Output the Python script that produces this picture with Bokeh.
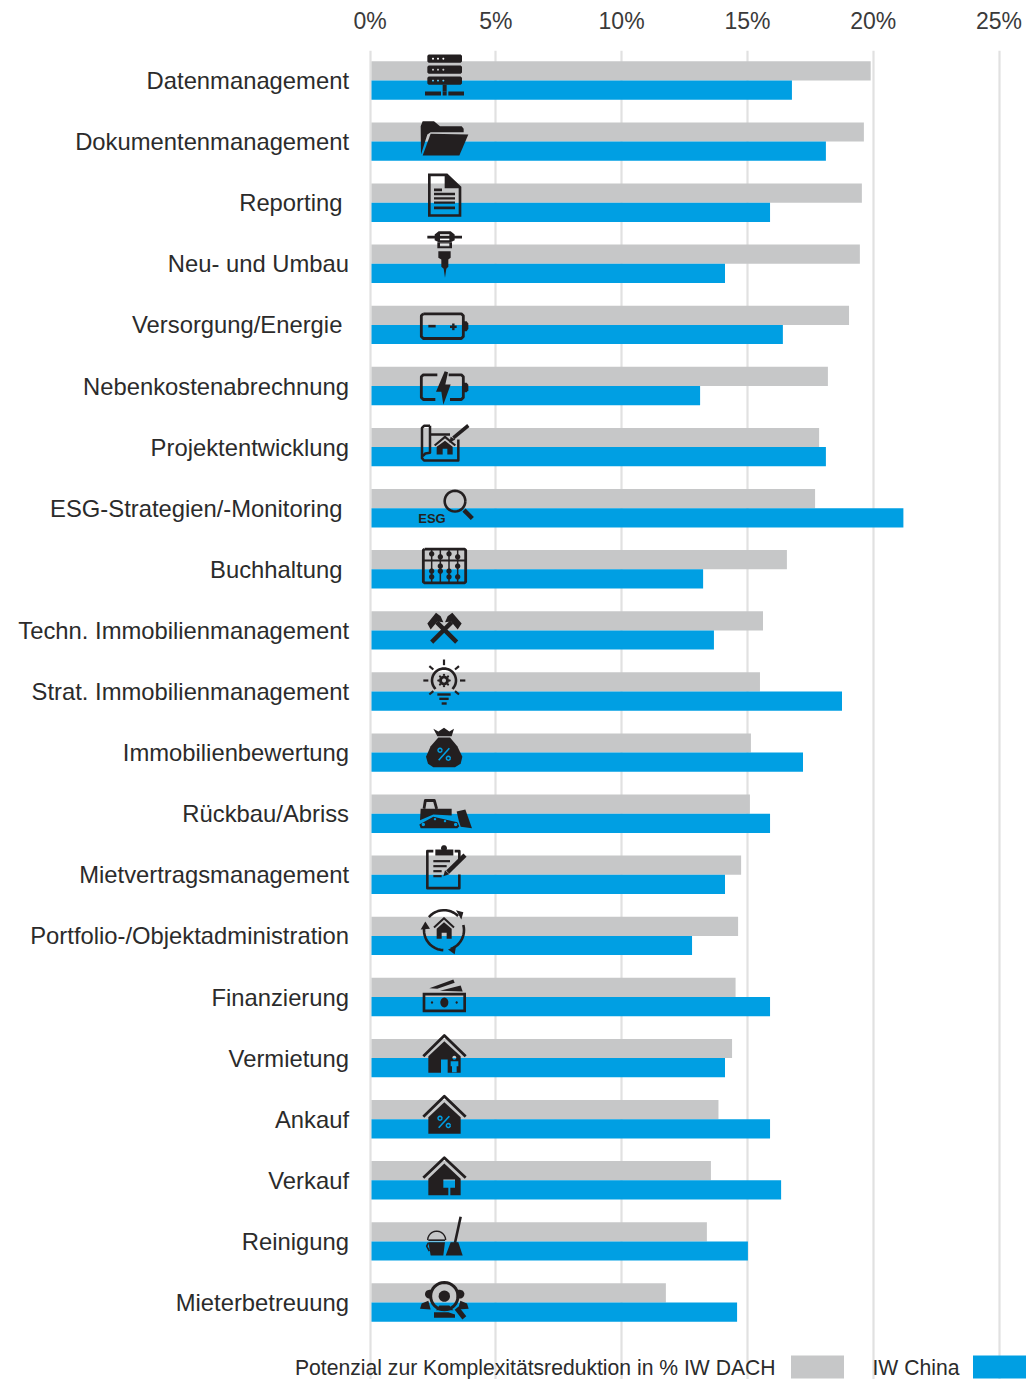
from math import cos, sin, pi
from bokeh.plotting import figure
from bokeh.models import Range1d, LinearAxis, FixedTicker, ColumnDataSource
from bokeh.core.properties import value
from bokeh.embed import file_html
from bokeh.resources import INLINE

NB = "\u00a0"
categories = ["Datenmanagement", "Dokumentenmanagement", "Reporting" + NB, "Neu- und Umbau",
              "Versorgung/Energie" + NB, "Nebenkostenabrechnung", "Projektentwicklung",
              "ESG-Strategien/-Monitoring" + NB, "Buchhaltung" + NB, "Techn. Immobilienmanagement",
              "Strat. Immobilienmanagement", "Immobilienbewertung", "Rückbau/Abriss",
              "Mietvertragsmanagement", "Portfolio-/Objektadministration", "Finanzierung",
              "Vermietung", "Ankauf", "Verkauf", "Reinigung", "Mieterbetreuung"]
iw_dach = [19.9, 19.63, 19.55, 19.47, 19.04, 18.2, 17.85, 17.69, 16.57, 15.62, 15.5,
           15.14, 15.1, 14.75, 14.63, 14.53, 14.39, 13.85, 13.55, 13.39, 11.76]
iw_china = [16.77, 18.12, 15.9, 14.11, 16.41, 13.12, 18.12, 21.2, 13.24, 13.67, 18.76,
            17.21, 15.9, 14.11, 12.8, 15.9, 14.11, 15.9, 16.34, 15.02, 14.59]
x_ticks = [0, 5, 10, 15, 20, 25]
x_labels = ["0%", "5%", "10%", "15%", "20%", "25%"]

GRAY = "#C6C7C8"
BLUE = "#009FE3"
GRID = "#E1E1E1"
INK = "#231F20"
TXT = "#2B2B2B"
FONT = "Liberation Sans"


def PX(x):
    return (x - 370) * 25 / 629


ROW = 61.1


def PY(y):
    return 20.5 - (y - 81) / ROW


rows = [20.5 - i for i in range(len(categories))]
p = figure(width=1032, height=1379, output_backend="svg", toolbar_location=None,
           x_range=Range1d(PX(0.5), PX(1032.5)), y_range=Range1d(PY(1380), PY(51)),
           x_axis_location=None, min_border_left=0, min_border_right=0,
           min_border_top=50, min_border_bottom=0, outline_line_color=None)

top = LinearAxis(ticker=FixedTicker(ticks=x_ticks),
                 major_label_overrides={t: l for t, l in zip(x_ticks, x_labels)})
top.axis_line_color = None
top.major_tick_line_color = None
top.minor_tick_line_color = None
top.major_tick_out = 0
top.major_label_text_font = FONT
top.major_label_text_font_size = "23px"
top.major_label_text_color = "#3A3A3A"
top.major_label_standoff = 17
p.add_layout(top, "above")

ax = p.yaxis[0]
ax.fixed_location = 0
ax.ticker = FixedTicker(ticks=rows)
ax.major_label_overrides = {r: c for r, c in zip(rows, categories)}
ax.axis_line_color = None
ax.major_tick_line_color = None
ax.minor_tick_line_color = None
ax.major_tick_out = 0
ax.major_label_text_font = FONT
ax.major_label_text_font_size = "23.8px"
ax.major_label_text_color = TXT
ax.major_label_standoff = 21

p.ygrid.visible = False
p.xgrid.ticker = FixedTicker(ticks=x_ticks)
p.xgrid.grid_line_color = GRID
p.xgrid.grid_line_width = 2.2
p.xgrid.bounds = (PY(1334), PY(51))

H = 19.2 / ROW
src = ColumnDataSource(dict(top_row=[r + H / 2 for r in rows], low_row=[r - H / 2 for r in rows],
                            dach=iw_dach, china=iw_china))
start = PX(371.5)
p.hbar(y="top_row", right="dach", left=start, height=H, source=src, color=GRAY, line_width=0)
p.hbar(y="low_row", right="china", left=start, height=H, source=src, color=BLUE, line_width=0)

# ---------- pictograms, written in page pixels ----------
polys, lines = [], []


def Z(o, pts):
    return [(PX(o[0] + x / 3), PY(o[1] + y / 3)) for x, y in pts]


def R(x0, y0, x1, y1):
    return [(x0, y0), (x1, y0), (x1, y1), (x0, y1)]


def C(cx, cy, r, ry=None, n=24):
    ry = r if ry is None else ry
    return [(cx + r * cos(2 * pi * i / n), cy + ry * sin(2 * pi * i / n)) for i in range(n)]


def A(cx, cy, r, a0, a1, n=16):
    return [(cx + r * cos(pi * (a0 + (a1 - a0) * i / n) / 180), cy + r * sin(pi * (a0 + (a1 - a0) * i / n) / 180))
            for i in range(n + 1)]


def fill(o, pts, holes=(), color=INK):
    polys.append((Z(o, pts), [Z(o, h) for h in holes], color))


def stroke(o, pts, w=2.0, color=INK):
    lines.append((Z(o, pts), w, color))


# row 1-4
o = (340, 0)
for y0, y1 in [(165, 190), (198, 223), (231, 256)]:
    ym = (y0 + y1) / 2
    fill(o, [(266, y0), (362, y0), (366, y0 + 4), (366, y1 - 4), (362, y1), (266, y1), (262, y1 - 4), (262, y0 + 4)],
         [C(279, ym, 3), C(294, ym, 3), C(310, ym, 3)])
fill(o, R(308, 256, 320, 276))
fill(o, R(255, 276, 303, 288))
fill(o, R(308, 276, 320, 288))
fill(o, R(325, 276, 372, 288))
fill(o, [(242, 380), (248, 365), (282, 365), (300, 380), (365, 380), (371, 388), (371, 398), (272, 398), (262, 405), (243, 465)])
fill(o, [(272, 403), (385, 405), (358, 468), (248, 468)])
fill(o, [(264, 522), (322, 522), (364, 562), (364, 652), (264, 652)],
     [[(272, 530), (314, 530), (314, 566), (356, 566), (356, 644), (272, 644)]])
fill(o, [(324, 532), (352, 558), (324, 558)], [[(328, 540), (342, 554), (328, 554)]])
for r in [(282, 567, 306, 575), (282, 580, 345, 587), (282, 593, 345, 600), (282, 606, 345, 613), (282, 621, 345, 629)]:
    fill(o, R(*r))
stroke(o, [(262, 713), (366, 713)], 2.6)
fill(o, [(296, 695), (332, 695), (344, 705), (344, 722), (332, 728), (296, 728), (284, 722), (284, 705)],
     [R(300, 704, 328, 711), R(300, 716, 328, 722)])
fill(o, R(292, 728, 336, 746), [R(300, 732, 328, 740)])
fill(o, [(295, 755), (332, 755), (332, 775), (325, 780), (325, 802), (319, 808), (315, 835), (311, 808), (304, 802), (304, 780), (295, 775)])

# row 5-9
o = (400, 300)
stroke(o, [(70, 43), (184, 43), (190, 49), (190, 111), (184, 117), (70, 117), (64, 111), (64, 49), (70, 43)], 2.8)
fill(o, [(192, 65), (200, 65), (205, 72), (205, 88), (200, 95), (192, 95)])
stroke(o, [(85, 80), (107, 80)], 2.6)
stroke(o, [(150, 82), (170, 82)], 2.4)
stroke(o, [(160, 72), (160, 92)], 2.4)
stroke(o, [(112, 226), (70, 226), (64, 232), (64, 294), (70, 300), (106, 300)], 2.8)
stroke(o, [(146, 226), (184, 226), (190, 232), (190, 294), (184, 300), (150, 300)], 2.8)
fill(o, [(192, 250), (200, 250), (205, 256), (205, 272), (200, 278), (192, 278)])
fill(o, [(134, 215), (108, 277), (124, 277), (130, 316), (152, 255), (136, 255), (144, 218)])
stroke(o, [(90, 379), (72, 379), (66, 385), (66, 476), (72, 483), (175, 483), (175, 420)], 2.5)
stroke(o, [(90, 379), (90, 460), (76, 462), (68, 470)], 2.5)
stroke(o, [(90, 405), (150, 405)], 2.5)
stroke(o, [(160, 415), (205, 378)], 3.6)
fill(o, [(148, 430), (152, 412), (166, 420)])
stroke(o, [(104, 438), (135, 412), (166, 438)], 2.2)
fill(o, [(135, 424), (158, 442), (158, 465), (142, 465), (142, 448), (128, 448), (128, 465), (110, 465), (110, 442)])
stroke(o, list(A(165, 605, 31, 0, 360, 32)), 2.6)
stroke(o, [(192, 632), (217, 657)], 4.4)
stroke(o, [(74, 749), (194, 749), (197, 752), (197, 847), (194, 850), (74, 850), (70, 847), (70, 752), (74, 749)], 2.8)
stroke(o, [(70, 783), (197, 783)], 1.8)
for x in (95, 121, 147, 173):
    stroke(o, [(x, 749), (x, 850)], 1.5)
for cx, cy in [(95, 763), (121, 772), (147, 763), (173, 772), (121, 800), (173, 800), (95, 815), (121, 815),
               (147, 815), (95, 832), (147, 832), (173, 832)]:
    fill(o, C(cx, cy, 8))

# row 10-14
o = (400, 600)
stroke(o, [(95, 128), (155, 68)], 4.4)
stroke(o, [(170, 128), (110, 68)], 4.4)
fill(o, [(82, 72), (108, 40), (122, 50), (130, 68), (112, 66), (92, 90)])
fill(o, [(185, 72), (157, 40), (143, 50), (135, 68), (153, 66), (173, 90)])
stroke(o, A(132, 243, 36, 135, 405, 28), 2.6)
fill(o, C(132, 243, 15), [C(132, 243, 6)])
for a in range(0, 360, 45):
    x = 132 + 17 * cos(a * pi / 180)
    y = 243 + 17 * sin(a * pi / 180)
    fill(o, C(x, y, 3.5, n=8))
stroke(o, [(112, 285), (152, 285)], 2.4)
stroke(o, [(118, 298), (146, 298)], 2.4)
stroke(o, [(125, 312), (140, 312)], 2.4)
for s in [[(132, 180), (132, 197)], [(88, 200), (100, 210)], [(177, 200), (165, 210)], [(70, 243), (85, 243)],
          [(180, 243), (196, 243)], [(88, 285), (100, 275)], [(177, 285), (165, 275)]]:
    stroke(o, s, 2.2)
fill(o, [(100, 388), (115, 396), (132, 385), (148, 396), (162, 388), (155, 410), (112, 410)])
fill(o, [(115, 414), (150, 414), (172, 440), (187, 472), (182, 493), (165, 503), (100, 503), (84, 493), (78, 472), (92, 440)])
stroke(o, [(116, 482), (148, 446)], 1.6, BLUE)
stroke(o, A(120, 452, 6, 0, 360, 12), 1.5, BLUE)
stroke(o, A(145, 476, 6, 0, 360, 12), 1.5, BLUE)
stroke(o, [(72, 628), (76, 603), (103, 603), (110, 628)], 2.8)
fill(o, [(62, 628), (155, 628), (155, 648), (100, 645), (60, 662)])
fill(o, [(58, 675), (100, 652), (172, 668), (178, 680), (172, 686), (62, 686)],
     [C(70, 675, 5), C(105, 659, 3.5), C(135, 665, 3.5), C(167, 675, 5)])
fill(o, [(170, 636), (196, 630), (216, 686), (182, 682), (176, 662)])
stroke(o, [(100, 755), (82, 755), (82, 866), (178, 866), (178, 825)], 2.6)
stroke(o, [(164, 755), (178, 755), (178, 785)], 2.6)
fill(o, R(106, 750, 160, 768))
fill(o, C(132, 746, 9))
stroke(o, [(100, 785), (150, 785)], 2.2)
stroke(o, [(100, 800), (140, 800)], 2.2)
stroke(o, [(100, 815), (125, 815)], 2.2)
stroke(o, [(100, 830), (125, 830)], 2.2)
stroke(o, [(143, 818), (195, 767)], 4.4)
fill(o, [(130, 830), (135, 812), (148, 824)])

# row 15-19
o = (400, 900)
stroke(o, A(132, 92, 60, -139, -45, 12), 2.6)
stroke(o, A(132, 92, 60, -15, 70, 12), 2.6)
stroke(o, A(132, 92, 60, 92, 188, 12), 2.6)
fill(o, [(168, 32), (190, 38), (184, 60)])
fill(o, [(62, 90), (76, 66), (90, 88)])
fill(o, [(144, 150), (168, 140), (164, 164)])
stroke(o, [(102, 84), (132, 56), (162, 84)], 2.0)
fill(o, [(132, 68), (155, 88), (155, 118), (140, 118), (140, 100), (125, 100), (125, 118), (110, 118), (110, 88)])
fill(o, R(68, 280, 198, 338), [R(76, 288, 190, 330)])
fill(o, C(133, 309, 12, 15))
fill(o, C(96, 309, 3.5))
fill(o, C(170, 309, 3.5))
fill(o, [(88, 266), (160, 240), (164, 250), (112, 268)])
fill(o, [(120, 274), (182, 258), (188, 276)])
for ytop, yroof in [(408, 470), (590, 652), (775, 835)]:
    stroke(o, [(70, yroof), (133, ytop), (197, yroof)], 2.8)
fill(o, [(85, 470), (133, 425), (182, 470), (182, 520), (85, 520)],
     [R(123, 480, 143, 520), C(163, 475, 6, n=12),
      [(152, 485), (175, 485), (175, 500), (170, 500), (170, 518), (156, 518), (156, 500), (152, 500)]])
fill(o, [(85, 653), (133, 608), (182, 653), (182, 703), (85, 703)])
stroke(o, [(116, 685), (148, 650)], 1.6, BLUE)
stroke(o, A(120, 656, 6, 0, 360, 12), 1.5, BLUE)
stroke(o, A(145, 678, 6, 0, 360, 12), 1.5, BLUE)
fill(o, [(85, 838), (133, 792), (182, 838), (182, 887), (85, 887)],
     [[(130, 840), (165, 840), (165, 865), (151, 865), (151, 887), (145, 887), (145, 865), (130, 865)]])

# row 20-21
o = (280, 1200)
fill(o, [(445, 128), (495, 128), (490, 168), (452, 168)])
stroke(o, [(445, 122), (495, 122)], 1.6)
stroke(o, A(470, 122, 27, 180, 360, 12), 1.4)
stroke(o, [(445, 130), (440, 140), (448, 155)], 1.6)
stroke(o, [(542, 52), (525, 130)], 2.6)
fill(o, [(512, 128), (535, 128), (548, 168), (497, 168)])
fill(o, C(493, 290, 17))
stroke(o, A(493, 290, 41, 0, 360, 32), 3.0)
fill(o, A(448, 284, 13, 90, 270) + [(455, 271), (455, 297)])
fill(o, A(540, 284, 13, -90, 90) + [(530, 297), (530, 271)])
fill(o, [(420, 328), (425, 312), (445, 304), (452, 330)])
fill(o, [(566, 328), (561, 312), (541, 304), (534, 330)])
fill(o, [(468, 332), (478, 318), (508, 318), (520, 332)])
fill(o, [(462, 338), (505, 338), (525, 345), (525, 355), (462, 355)])
stroke(o, [(530, 326), (553, 355)], 5.0)

p.multi_polygons(xs=[[[[q[0] for q in r] for r in [a] + b]] for a, b, _ in polys],
                 ys=[[[[q[1] for q in r] for r in [a] + b]] for a, b, _ in polys],
                 fill_color=[c for _, _, c in polys], line_color=None)
p.multi_line(xs=[[q[0] for q in a] for a, _, _ in lines], ys=[[q[1] for q in a] for a, _, _ in lines],
             line_width=[w for _, w, _ in lines], line_color=[c for _, _, c in lines],
             line_cap="butt", line_join="round")
p.text(x=[PX(432)], y=[PY(519)], text=["ESG"], text_font=value(FONT), text_font_style="bold", text_font_size="13px",
       text_color=INK, text_align="center", text_baseline="middle")

# ---------- legend ----------
legend_labels = ["Potenzial zur Komplexitätsreduktion in % IW DACH", "IW China"]
p.quad(left=[PX(791), PX(973)], right=[PX(844), PX(1026)], top=PY(1356), bottom=PY(1379),
       color=[GRAY, BLUE], line_width=0)
p.text(x=[PX(295), PX(872.5)], y=[PY(1368), PY(1368)], text=legend_labels, text_font=value(FONT),
       text_font_size="21.15px", text_color=TXT, text_baseline="middle")

open("out.html", "w").write(file_html(p, INLINE))
